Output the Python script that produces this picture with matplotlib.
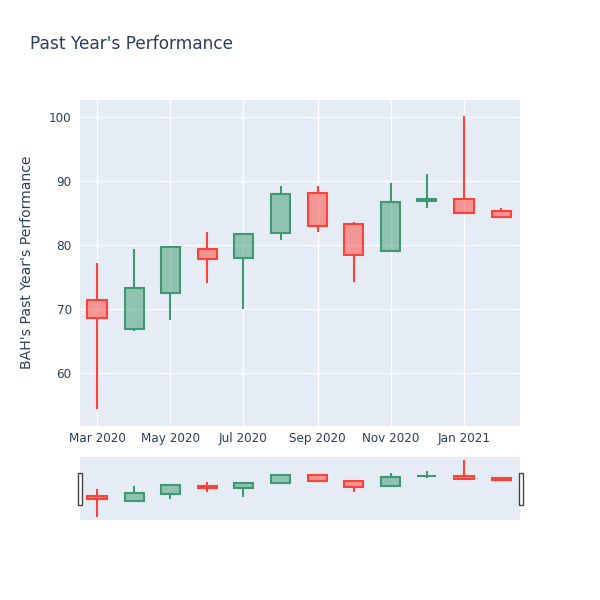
import matplotlib.pyplot as plt
import matplotlib.dates as mdates
import matplotlib.colors as mcolors
from matplotlib.patches import Rectangle
import pandas as pd

plt.rcParams['font.family'] = ['DejaVu Sans']

# monthly OHLC
dates = pd.to_datetime(['2020-03-01', '2020-04-01', '2020-05-01', '2020-06-01',
                        '2020-07-01', '2020-08-01', '2020-09-01', '2020-10-01',
                        '2020-11-01', '2020-12-01', '2021-01-01', '2021-02-01'])
opens = [71.5, 67.0, 72.5, 79.4, 78.0, 82.0, 88.2, 83.3, 79.2, 87.0, 87.3, 85.4]
highs = [77.2, 79.4, 79.8, 82.1, 81.8, 89.2, 89.3, 83.7, 89.8, 91.1, 100.2, 85.9]
lows = [54.4, 66.6, 68.4, 74.1, 70.1, 80.9, 82.1, 74.3, 79.0, 85.9, 84.9, 84.4]
closes = [68.6, 73.3, 79.8, 77.8, 81.7, 88.0, 83.0, 78.5, 86.8, 87.2, 85.1, 84.5]

tick_dates = pd.to_datetime(['2020-03-01', '2020-05-01', '2020-07-01',
                             '2020-09-01', '2020-11-01', '2021-01-01'])
tick_labels = ['Mar 2020', 'May 2020', 'Jul 2020', 'Sep 2020', 'Nov 2020', 'Jan 2021']
y_ticks = [60, 70, 80, 90, 100]

UP = '#3D9970'
DOWN = '#FF4136'
BG = '#E5ECF6'
TXT = '#2a3f5f'

fig = plt.figure(figsize=(6, 6), dpi=100)
ax = fig.add_axes([80/600, 174/600, 440/600, 326/600])
sl = fig.add_axes([80/600, 80/600, 440/600, 63/600])

xs = mdates.date2num(dates)
x_lo = mdates.date2num(pd.Timestamp('2020-03-01')) - 14.2
x_hi = mdates.date2num(pd.Timestamp('2021-01-01')) + 46.7


def draw_candles(a, lw):
    for xi, o, h, l, c in zip(xs, opens, highs, lows, closes):
        col = UP if c >= o else DOWN
        top, bot = max(o, c), min(o, c)
        a.vlines(xi, top, h, color=col, lw=lw, zorder=2)
        a.vlines(xi, l, bot, color=col, lw=lw, zorder=2)
        a.bar(xi, top - bot, width=16, bottom=bot,
              facecolor=mcolors.to_rgba(col, 0.5), edgecolor=col,
              linewidth=lw, zorder=3)


for a in [ax, sl]:
    a.set_facecolor(BG)
    for s in a.spines.values():
        s.set_visible(False)
    draw_candles(a, 1.5)
    a.set_xlim(x_lo, x_hi)
    a.set_ylim(51.8, 102.7)

ax.set_xticks(mdates.date2num(tick_dates))
ax.set_xticklabels(tick_labels)
ax.set_yticks(y_ticks)
ax.tick_params(length=0, labelsize=8.64, labelcolor=TXT)
ax.tick_params(axis='x', pad=4)
ax.tick_params(axis='y', pad=6)
ax.grid(True, color='white', lw=1)
ax.set_axisbelow(True)

sl.set_xticks([])
sl.set_yticks([])

# range slider handles
for hx in [77.5, 518.5]:
    fig.add_artist(Rectangle((hx/600, 95/600), 4/600, 32/600,
                             transform=fig.transFigure, facecolor='white',
                             edgecolor='#444444', linewidth=1))

fig.text(30/600, 1 - 44/600, "Past Year's Performance", fontsize=12.24,
         color=TXT, va='center', ha='left')
fig.text(27/600, 1 - 262/600, "BAH's Past Year's Performance", fontsize=10.08,
         color=TXT, va='center', ha='center', rotation=90)

fig.savefig('out.png', dpi=100)
